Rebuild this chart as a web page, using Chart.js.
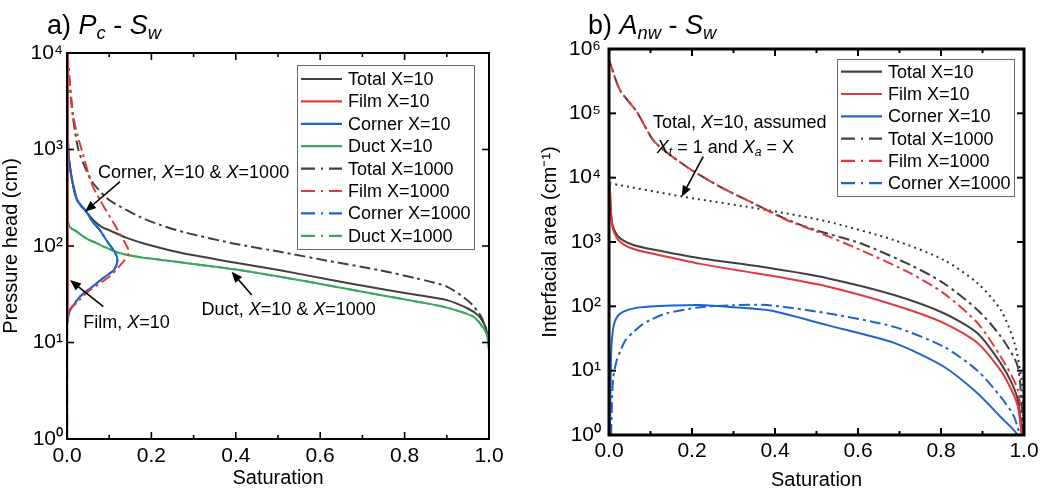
<!DOCTYPE html>
<html><head><meta charset="utf-8">
<script src="https://cdn.jsdelivr.net/npm/chart.js@4.4.1/dist/chart.umd.min.js"></script>
<style>
html,body{margin:0;padding:0;background:#fff;width:1050px;height:492px;overflow:hidden}
canvas{position:absolute;top:0}
#ca{left:0}#cb{left:525px}
</style></head><body>
<canvas id="ca" width="525" height="492"></canvas>
<canvas id="cb" width="525" height="492"></canvas>
<script>
// ---------- tick values / labels ----------
const xTicks = [0, 0.2, 0.4, 0.6, 0.8, 1.0];
const xTickLabels = ['0.0', '0.2', '0.4', '0.6', '0.8', '1.0'];
const xMinorTicks = [0.1, 0.3, 0.5, 0.7, 0.9];
const yTicksA = [1, 10, 100, 1000, 10000];
const yTickLabelsA = ['10⁰', '10¹', '10²', '10³', '10⁴'];
const yTicksB = [1, 10, 100, 1e3, 1e4, 1e5, 1e6];
const yTickLabelsB = ['10⁰', '10¹', '10²', '10³', '10⁴', '10⁵', '10⁶'];

// ---------- panel a: Pc - Sw (pressure head, cm) ----------
const satA_total10 = [0.001, 0.003, 0.0135, 0.024, 0.043, 0.062, 0.082, 0.1, 0.14, 0.18, 0.27, 0.4, 0.505, 0.62, 0.742, 0.83, 0.9, 0.95, 0.975, 0.99, 0.997];
const pcA_total10  = [10000, 1000, 447, 300, 235, 186, 158, 146, 122, 107, 85, 67, 56, 45, 36, 31, 27.5, 22.5, 19, 15, 12];
const satA_film10 = [0.002, 0.002];
const pcA_film10  = [10000, 16];
const satA_corner = [0.0005, 0.001, 0.003, 0.007, 0.0135, 0.024, 0.033, 0.043, 0.06, 0.078, 0.095, 0.11, 0.118, 0.119, 0.112, 0.09, 0.07, 0.05, 0.031, 0.017, 0.007, 0.002, 0.0005, 0.0005];
const pcA_corner  = [10000, 3000, 1000, 650, 447, 300, 260, 235, 180, 146, 112, 91, 78, 68, 57, 48, 41, 35, 30, 25, 21.7, 17.5, 14, 1];
const satA_duct = [0.0008, 0.001, 0.002, 0.006, 0.012, 0.023, 0.045, 0.07, 0.1, 0.126, 0.17, 0.22, 0.29, 0.4, 0.505, 0.62, 0.742, 0.83, 0.9, 0.963, 0.985, 0.995, 1.0, 1.0];
const pcA_duct  = [10000, 1000, 185, 160, 150, 141, 120, 107, 93, 84, 77, 72, 66, 57, 48, 39, 31, 26.5, 23, 18.5, 14.5, 12, 8, 1];
const satA_total1000 = [0.001, 0.006, 0.014, 0.027, 0.045, 0.062, 0.1, 0.173, 0.22, 0.28, 0.4, 0.505, 0.62, 0.742, 0.83, 0.9, 0.955, 0.98, 0.993, 0.999];
const pcA_total1000  = [10000, 4880, 2190, 990, 620, 447, 300, 200, 166, 138, 105, 87, 70, 56, 46, 38, 26, 19, 14, 12];
const satA_film1000 = [0.001, 0.007, 0.015, 0.025, 0.035, 0.058, 0.078, 0.11, 0.138, 0.147, 0.13, 0.1, 0.055, 0.029, 0.007, 0.002];
const pcA_film1000  = [10000, 4880, 2190, 1400, 990, 447, 300, 174, 107, 85, 66, 48, 35, 27.5, 21.7, 19];

// ---------- panel b: Anw - Sw (interfacial area, 1/cm) ----------
const satB_total10 = [0.002, 0.003, 0.005, 0.009, 0.019, 0.035, 0.059, 0.1, 0.22, 0.38, 0.526, 0.687, 0.807, 0.888, 0.944, 0.97, 0.985, 0.995];
const anB_total10  = [8000, 5000, 2800, 1800, 1290, 1050, 900, 780, 560, 400, 274, 150, 78, 38, 13, 6.5, 3.5, 1];
const satB_film10 = [0.002, 0.003, 0.005, 0.009, 0.019, 0.035, 0.059, 0.1, 0.22, 0.38, 0.526, 0.687, 0.807, 0.888, 0.944, 0.97, 0.985, 0.995];
const anB_film10  = [7700, 4700, 2600, 1650, 1150, 920, 780, 670, 457, 307, 203, 105, 55, 27, 10, 5, 2.8, 1];
const satB_corner10 = [0.002, 0.004, 0.006, 0.01, 0.014, 0.022, 0.035, 0.06, 0.099, 0.15, 0.22, 0.3, 0.389, 0.526, 0.687, 0.807, 0.888, 0.944, 0.97, 0.985];
const anB_corner10  = [1, 8, 25, 45, 58, 72, 83, 93, 99, 103, 105, 97, 86, 51, 27, 11.5, 4.45, 1.9, 1.3, 1];
const satB_total1000 = [0.001, 0.0265, 0.067, 0.11, 0.187, 0.267, 0.348, 0.428, 0.502, 0.606, 0.727, 0.807, 0.888, 0.944, 0.985, 0.998];
const anB_total1000  = [650000, 230000, 106000, 36000, 14800, 7250, 4000, 2250, 1500, 955, 437, 228, 88, 34, 11.5, 1];
const satB_film1000 = [0.001, 0.0265, 0.067, 0.11, 0.187, 0.267, 0.348, 0.428, 0.502, 0.606, 0.727, 0.807, 0.888, 0.944, 0.985, 0.995];
const anB_film1000  = [650000, 230000, 106000, 36000, 14800, 7250, 4000, 2200, 1440, 751, 325, 159, 55, 16.5, 5, 1];
const satB_corner1000 = [0.005, 0.007, 0.01, 0.018, 0.027, 0.04, 0.059, 0.08, 0.099, 0.139, 0.22, 0.3, 0.38, 0.526, 0.687, 0.807, 0.888, 0.944, 0.975, 0.99];
const anB_corner1000  = [1, 3, 7.6, 14, 20, 30, 40, 52, 61, 78, 97, 104, 105, 78, 48, 23.5, 10, 3.9, 2, 1];
const satB_assumed = [0.001, 0.18, 0.389, 0.526, 0.687, 0.807, 0.888, 0.944, 0.977, 0.995, 1.0];
const anB_assumed  = [8200, 5040, 3080, 2080, 1070, 525, 229, 88, 27, 6.3, 1];

// ---------- styling ----------
const FONT = '"Liberation Sans", Arial, Helvetica, sans-serif';
const GRAY = '#404040', RED = '#e03a3e', BLUE = '#1f63cc', GREEN = '#3aa85e';
const DASHDOT = [11, 4, 3, 4];

function pts(s, v) { return s.map((x, i) => ({x: x, y: v[i]})); }
function ds(label, s, v, color, dashed, order, extra) {
  return Object.assign({
    label, data: pts(s, v), borderColor: color, backgroundColor: color,
    borderWidth: 2, borderDash: dashed ? DASHDOT : [], pointRadius: 0,
    fill: false, tension: 0.25, order, inLegend: true
  }, extra || {});
}

function richText(ctx, x, y, segs, size) {
  let cx = x;
  ctx.textBaseline = 'alphabetic'; ctx.textAlign = 'left'; ctx.fillStyle = '#000';
  for (const s of segs) {
    const fs = (s.sub || s.sup) ? size * 0.68 : size;
    ctx.font = (s.i ? 'italic ' : '') + fs + 'px ' + FONT;
    const dy = s.sub ? size * 0.2 : (s.sup ? -size * 0.42 : 0);
    ctx.fillText(s.t, cx, y + dy);
    cx += ctx.measureText(s.t).width;
  }
}

function arrow(ctx, x1, y1, x2, y2) {
  const ang = Math.atan2(y2 - y1, x2 - x1), L = 11, W = 4.5;
  const bx = x2 - L * Math.cos(ang), by = y2 - L * Math.sin(ang);
  ctx.save();
  ctx.strokeStyle = '#000'; ctx.fillStyle = '#000'; ctx.lineWidth = 1.6;
  ctx.beginPath(); ctx.moveTo(x1, y1); ctx.lineTo(bx, by); ctx.stroke();
  ctx.beginPath(); ctx.moveTo(x2, y2);
  ctx.lineTo(bx + W * Math.sin(ang), by - W * Math.cos(ang));
  ctx.lineTo(bx - W * Math.sin(ang), by + W * Math.cos(ang));
  ctx.closePath(); ctx.fill();
  ctx.restore();
}

const framePlugin = {
  id: 'frame',
  afterDatasetsDraw(chart, args, o) {
    const {ctx, chartArea: a, scales: {x, y}} = chart;
    ctx.save();
    ctx.strokeStyle = '#000';
    ctx.lineWidth = o.lw;
    ctx.strokeRect(a.left, a.top, a.right - a.left, a.bottom - a.top);
    ctx.lineWidth = o.tw;
    const ln = (x1, y1, x2, y2) => { ctx.beginPath(); ctx.moveTo(x1, y1); ctx.lineTo(x2, y2); ctx.stroke(); };
    xTicks.forEach(v => { const p = x.getPixelForValue(v); ln(p, a.bottom, p, a.bottom - 7); ln(p, a.top, p, a.top + 7); });
    xMinorTicks.forEach(v => { const p = x.getPixelForValue(v); ln(p, a.bottom, p, a.bottom - 4); ln(p, a.top, p, a.top + 4); });
    o.yTicks.forEach(v => { const p = y.getPixelForValue(v); ln(a.left, p, a.left + 7, p); ln(a.right, p, a.right - 7, p); });
    ctx.restore();
  }
};

const legendPlugin = {
  id: 'boxLegend',
  afterDraw(chart, args, o) {
    const ctx = chart.ctx;
    const items = chart.data.datasets.filter(d => d.inLegend);
    ctx.save();
    ctx.fillStyle = '#fff';
    ctx.fillRect(o.x, o.y, o.w, o.h);
    ctx.strokeStyle = '#6a6a6a'; ctx.lineWidth = 1;
    ctx.strokeRect(o.x + 0.5, o.y + 0.5, o.w, o.h);
    items.forEach((d, i) => {
      const cy = o.first + i * o.step;
      ctx.strokeStyle = d.borderColor; ctx.lineWidth = 2.2;
      ctx.setLineDash(d.borderDash && d.borderDash.length ? [14, 6, 2, 6] : []);
      ctx.beginPath(); ctx.moveTo(o.sx1, cy); ctx.lineTo(o.sx2, cy); ctx.stroke();
      ctx.setLineDash([]);
      ctx.fillStyle = '#000'; ctx.font = '18px ' + FONT;
      ctx.textBaseline = 'middle'; ctx.textAlign = 'left';
      ctx.fillText(d.label, o.tx, cy + 1);
    });
    ctx.restore();
  }
};

const notePlugin = {
  id: 'notes',
  afterDraw(chart, args, o) {
    const {ctx, scales: {x, y}} = chart;
    ctx.save();
    (o.texts || []).forEach(t => richText(ctx, x.getPixelForValue(t.at[0]), y.getPixelForValue(t.at[1]) + 6.5, t.segs, 18));
    (o.arrows || []).forEach(a => arrow(ctx, x.getPixelForValue(a.from[0]), y.getPixelForValue(a.from[1]), x.getPixelForValue(a.to[0]), y.getPixelForValue(a.to[1])));
    if (o.title) richText(ctx, o.title.x, o.title.y, o.title.segs, 27);
    ctx.restore();
  }
};

function makeOptions(c) {
  return {
    responsive: false, animation: false, devicePixelRatio: 1, events: [],
    layout: {padding: {left: 0, top: c.top, right: c.right, bottom: 0}},
    plugins: {
      legend: {display: false}, tooltip: {enabled: false},
      frame: {lw: c.lw, tw: c.tw, yTicks: c.yTicks},
      boxLegend: c.legend,
      notes: c.notes
    },
    scales: {
      x: {
        type: 'linear', min: 0, max: 1,
        grid: {display: false, drawTicks: false}, border: {display: false},
        afterBuildTicks: s => { s.ticks = xTicks.map(v => ({value: v})); },
        ticks: {callback: (v, i) => xTickLabels[i], autoSkip: false, maxRotation: 0,
          font: {family: FONT, size: 21, lineHeight: 1}, color: '#000', padding: c.xPad},
        title: {display: true, text: 'Saturation', color: '#000',
          font: {family: FONT, size: 20, lineHeight: 1}, padding: {top: 0, bottom: c.xTitlePad}},
        afterFit: s => { s.height = c.xH; s.paddingLeft = 0; s.paddingRight = 0; }
      },
      y: {
        type: 'logarithmic', min: c.yTicks[0], max: c.yTicks[c.yTicks.length - 1],
        grid: {display: false, drawTicks: false}, border: {display: false},
        afterBuildTicks: s => { s.ticks = c.yTicks.map(v => ({value: v})); },
        ticks: {callback: (v, i) => c.yLabels[i], autoSkip: false,
          font: {family: FONT, size: 21, lineHeight: 1}, color: '#000', padding: c.yPad},
        title: {display: true, text: c.yTitle, color: '#000',
          font: {family: FONT, size: 20, lineHeight: 1}, padding: {top: c.yTitlePad, bottom: 0}},
        afterFit: s => { s.width = c.yW; s.paddingTop = 0; s.paddingBottom = 0; }
      }
    }
  };
}

// ---------- chart a ----------
new Chart(document.getElementById('ca'), {
  type: 'line',
  data: {datasets: [
    ds('Total X=10', satA_total10, pcA_total10, GRAY, false, 5),
    ds('Film X=10', satA_film10, pcA_film10, RED, false, 0),
    ds('Corner X=10', satA_corner, pcA_corner, BLUE, false, 2),
    ds('Duct X=10', satA_duct, pcA_duct, GREEN, false, 3),
    ds('Total X=1000', satA_total1000, pcA_total1000, GRAY, true, 4),
    ds('Film X=1000', satA_film1000, pcA_film1000, RED, true, 1),
    ds('Corner X=1000', satA_corner, pcA_corner, BLUE, true, 6),
    ds('Duct X=1000', satA_duct, pcA_duct, GREEN, true, 7)
  ]},
  options: makeOptions({
    top: 53, right: 36, xH: 53, yW: 67, xPad: 6.5, xTitlePad: 3.5, yPad: 4, yTitlePad: 1,
    lw: 2, tw: 1.6, yTicks: yTicksA, yLabels: yTickLabelsA, yTitle: 'Pressure head (cm)',
    legend: {x: 297, y: 65, w: 177, h: 184, first: 79, step: 22.4, sx1: 301, sx2: 342, tx: 348},
    notes: {
      texts: [
        {at: [0.0735, 589], segs: [{t: 'Corner, '}, {t: 'X', i: 1}, {t: '=10 & '}, {t: 'X', i: 1}, {t: '=1000'}]},
        {at: [0.0386, 16.4], segs: [{t: 'Film, '}, {t: 'X', i: 1}, {t: '=10'}]},
        {at: [0.319, 22.6], segs: [{t: 'Duct, '}, {t: 'X', i: 1}, {t: '=10 & '}, {t: 'X', i: 1}, {t: '=1000'}]}
      ],
      arrows: [
        {from: [0.1256, 464], to: [0.0427, 227]},
        {from: [0.086, 23.5], to: [0.0071, 44.4]},
        {from: [0.4377, 31.1], to: [0.390, 54.2]}
      ],
      title: {x: 47, y: 34, segs: [{t: 'a) '}, {t: 'P', i: 1}, {t: 'c', i: 1, sub: 1}, {t: ' - '}, {t: 'S', i: 1}, {t: 'w', i: 1, sub: 1}]}
    }
  }),
  plugins: [framePlugin, legendPlugin, notePlugin]
});

// ---------- chart b ----------
new Chart(document.getElementById('cb'), {
  type: 'line',
  data: {datasets: [
    ds('Total X=10', satB_total10, anB_total10, GRAY, false, 3),
    ds('Film X=10', satB_film10, anB_film10, RED, false, 2),
    ds('Corner X=10', satB_corner10, anB_corner10, BLUE, false, 0),
    ds('Total X=1000', satB_total1000, anB_total1000, GRAY, true, 5, {borderDashOffset: 6}),
    ds('Film X=1000', satB_film1000, anB_film1000, RED, true, 4),
    ds('Corner X=1000', satB_corner1000, anB_corner1000, BLUE, true, 1),
    ds('Total, X=10, assumed Xt = 1 and Xa = X', satB_assumed, anB_assumed, '#333333', false, 6,
       {borderDash: [2, 4], inLegend: false})
  ]},
  options: makeOptions({
    top: 49, right: 26, xH: 57, yW: 84, xPad: 6, xTitlePad: 1.5, yPad: 8, yTitlePad: 15.5,
    lw: 3, tw: 2, yTicks: yTicksB, yLabels: yTickLabelsB, yTitle: 'Interfacial area (cm⁻¹)',
    legend: {x: 312, y: 59, w: 177, h: 137, first: 71.7, step: 22.3, sx1: 316, sx2: 357, tx: 363},
    notes: {
      texts: [
        {at: [0.106, 74000], segs: [{t: 'Total, '}, {t: 'X', i: 1}, {t: '=10, assumed'}]},
        {at: [0.115, 31000], segs: [{t: 'X', i: 1}, {t: 't', i: 1, sub: 1}, {t: ' = 1 and '}, {t: 'X', i: 1}, {t: 'a', i: 1, sub: 1}, {t: ' = X'}]}
      ],
      arrows: [
        {from: [0.227, 21200], to: [0.175, 5060]}
      ],
      title: {x: 63, y: 34, segs: [{t: 'b) '}, {t: 'A', i: 1}, {t: 'nw', i: 1, sub: 1}, {t: ' - '}, {t: 'S', i: 1}, {t: 'w', i: 1, sub: 1}]}
    }
  }),
  plugins: [framePlugin, legendPlugin, notePlugin]
});
</script>
</body></html>
